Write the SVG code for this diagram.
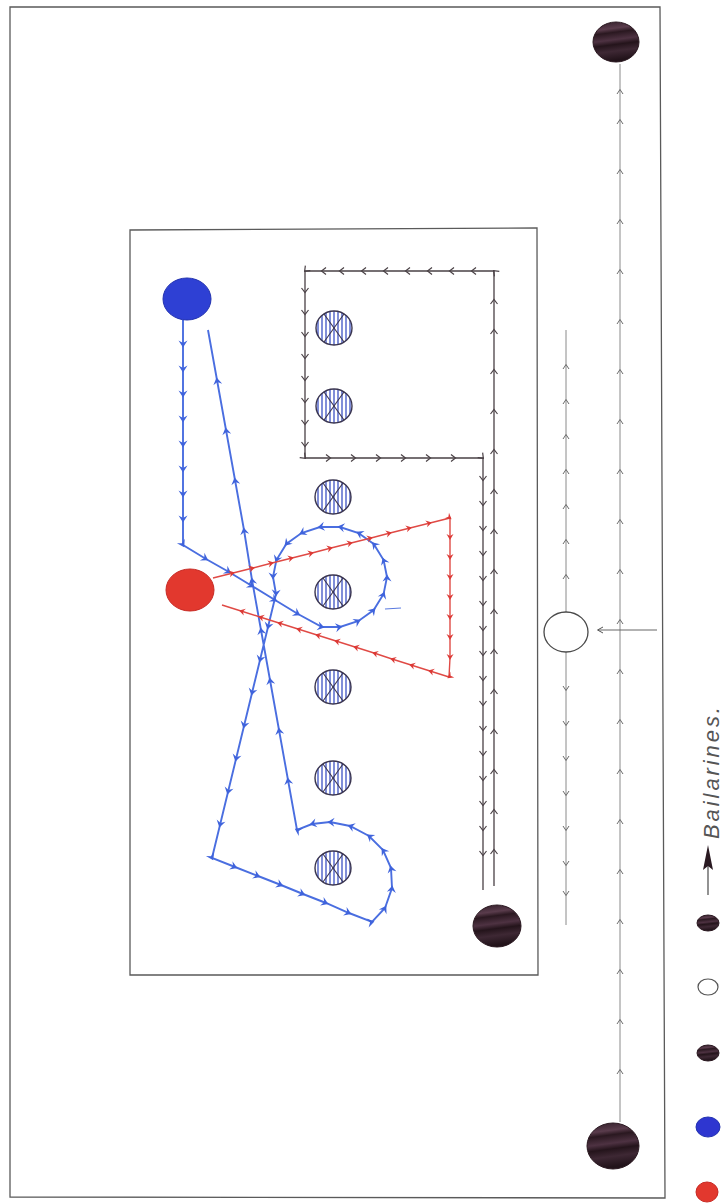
<svg xmlns="http://www.w3.org/2000/svg" width="724" height="1203" viewBox="0 0 724 1203">
<style>
.frame{fill:none;stroke:#5a5a5a;stroke-width:1.3}
.blk{fill:none;stroke:#4a4146;stroke-width:1.3;marker-mid:url(#aBlk)}
.gry{fill:none;stroke:#8a8a8a;stroke-width:1;marker-mid:url(#aGry)}
.blu{fill:none;stroke:#4a6ee0;stroke-width:1.9;marker-mid:url(#aBlu)}
.red{fill:none;stroke:#e04a45;stroke-width:1.4;marker-mid:url(#aRed)}
.obst ellipse{fill:url(#hatch);stroke:#3a3550;stroke-width:1.4}
.obst line{stroke:#3a3550;stroke-width:1.1}
.dark{fill:url(#darkG);stroke:#2a1820;stroke-width:1}
</style>
<defs>
<marker id="aBlk" markerUnits="userSpaceOnUse" markerWidth="12" markerHeight="12" refX="0" refY="0" viewBox="-6 -6 12 12" orient="auto" overflow="visible">
<path d="M-4,-3.5 L0.5,0 L-4,3.5" fill="none" stroke="#4a4146" stroke-width="1.2"/>
</marker>
<marker id="aGry" markerUnits="userSpaceOnUse" markerWidth="12" markerHeight="12" refX="0" refY="0" viewBox="-6 -6 12 12" orient="auto" overflow="visible">
<path d="M-4,-3 L0.5,0 L-4,3" fill="none" stroke="#6a6a6a" stroke-width="1"/>
</marker>
<marker id="aBlu" markerUnits="userSpaceOnUse" markerWidth="12" markerHeight="12" refX="0" refY="0" viewBox="-6 -6 12 12" orient="auto" overflow="visible">
<path d="M-4.5,-4.5 L2.5,0 L-4.5,4.5 L-2,0 Z" fill="#3f63dc"/>
</marker>
<marker id="aRed" markerUnits="userSpaceOnUse" markerWidth="12" markerHeight="12" refX="0" refY="0" viewBox="-6 -6 12 12" orient="auto" overflow="visible">
<path d="M-4,-3.5 L2,0 L-4,3.5 L-2,0 Z" fill="#dc3a36"/>
</marker>
<marker id="aEnd" markerUnits="userSpaceOnUse" markerWidth="12" markerHeight="12" refX="0" refY="0" viewBox="-6 -6 12 12" orient="auto" overflow="visible">
<path d="M-5,-3 L0.5,0 L-5,3" fill="none" stroke="#555" stroke-width="1"/>
</marker>
<pattern id="hatch" patternUnits="userSpaceOnUse" width="4" height="4">
<rect width="4" height="4" fill="#ffffff"/>
<line x1="2" y1="0" x2="2" y2="4" stroke="#3c52c4" stroke-width="1.3"/>
</pattern>
<linearGradient id="darkG" x1="0" y1="0" x2="0.15" y2="1">
<stop offset="0" stop-color="#2e1c26"/>
<stop offset="0.22" stop-color="#5a3c4c"/>
<stop offset="0.32" stop-color="#2a1820"/>
<stop offset="0.5" stop-color="#4e3242"/>
<stop offset="0.62" stop-color="#24141b"/>
<stop offset="0.78" stop-color="#3e2834"/>
<stop offset="1" stop-color="#22131a"/>
</linearGradient>
</defs>
<rect width="724" height="1203" fill="#ffffff"/>

<g id="frames">
<path class="frame" d="M10,7 L660,7 L665,1198 L10,1197 Z"/>
<path class="frame" d="M130,230 L537,228 L538,975 L130,975 Z"/>
</g>

<g id="connectors">
<polyline class="blk" points="494,886 494,850 494,810 494,770 494,730 494,690 494,650 494,610 494,570 494,530 494,490 494,450 494,410 494,370 494,330 494,300 494,271 472,271 450,271 428,271 406,271 384,271 362,271 340,271 322,271 305,271 305,292 305,314 305,336 305,358 305,380 305,402 305,424 305,446 305,458 330,458 355,458 380,458 405,458 430,458 455,458 483,458 483,480 483,505 483,530 483,555 483,580 483,605 483,630 483,655 483,680 483,705 483,730 483,755 483,780 483,805 483,830 483,855 483,890"/>
<polyline class="gry" points="566,612 566,575 566,540 566,505 566,470 566,435 566,400 566,365 566,330"/>
<polyline class="gry" points="566,652 566,690 566,725 566,760 566,795 566,830 566,865 566,895 566,925"/>
<polyline class="gry" points="620,1122 620,1070 620,1020 620,970 620,920 620,870 620,820 620,770 620,720 620,670 620,620 620,570 620,520 620,470 620,420 620,370 620,320 620,270 620,220 620,170 620,120 620,90 620,64"/>
<line x1="657" y1="630" x2="598" y2="630" stroke="#666" stroke-width="1" marker-end="url(#aEnd)"/>
<polyline class="blu" points="183,320 183,345 183,370 183,395 183,420 183,445 183,470 183,495 183,520 183,545 206,559 229,572 252,586 275,600 298,614 322,627 340,627 358.5,621 373.7,610 383.6,594 387,577 383.6,560 373.7,544 358.5,533 340,527 320,527 301.5,533 286.3,544 276.4,560 273,577 276,594 268,627 260,660 252,693 244,726 236,759 228,792 220,825 212,858 235,867 258,876 281,885 303,894 326,903 349,913 372,922 385,908 392,888 391,868 383,850 369,836 350,826 330,822 312,824 297,830 288,780 279,730 270,680 261,630 252,580 244,530 235,480 226,430 217,380 208,330"/>
<line x1="385" y1="609" x2="401" y2="608" stroke="#5a7ae0" stroke-width="1.2"/>
<polyline class="red" points="213,578 233,573 253,568 272,563 292,558 312,553 331,548 351,543 371,538 390,533 410,528 430,523 450,518 450,538 450,558 450,578 450,598 450,618 450,638 450,658 449,677 430,671 411,665 392,659 374,653 355,647 336,641 317,635 298,629 279,623 260,617 241,611 222,605"/>
</g>

<g id="obstacles" class="obst">
<g id="obs1"><ellipse cx="334" cy="328" rx="18" ry="17"/><line x1="324" y1="314" x2="344" y2="342"/><line x1="344" y1="314" x2="324" y2="342"/></g>
<g id="obs2"><ellipse cx="334" cy="406" rx="18" ry="17"/><line x1="324" y1="392" x2="344" y2="420"/><line x1="344" y1="392" x2="324" y2="420"/></g>
<g id="obs3"><ellipse cx="333" cy="497" rx="18" ry="17"/><line x1="323" y1="483" x2="343" y2="511"/><line x1="343" y1="483" x2="323" y2="511"/></g>
<g id="obs4"><ellipse cx="333" cy="592" rx="18" ry="17"/><line x1="323" y1="578" x2="343" y2="606"/><line x1="343" y1="578" x2="323" y2="606"/></g>
<g id="obs5"><ellipse cx="333" cy="687" rx="18" ry="17"/><line x1="323" y1="673" x2="343" y2="701"/><line x1="343" y1="673" x2="323" y2="701"/></g>
<g id="obs6"><ellipse cx="333" cy="778" rx="18" ry="17"/><line x1="323" y1="764" x2="343" y2="792"/><line x1="343" y1="764" x2="323" y2="792"/></g>
<g id="obs7"><ellipse cx="333" cy="868" rx="18" ry="17"/><line x1="323" y1="854" x2="343" y2="882"/><line x1="343" y1="854" x2="323" y2="882"/></g>
</g>

<g id="dancers">
<ellipse id="blueDancer" cx="187" cy="299" rx="24" ry="21" fill="#2e40d4" stroke="#2232b0" stroke-width="1"/>
<ellipse id="redDancer" cx="190" cy="590" rx="24" ry="21" fill="#e2382e" stroke="#c82a24" stroke-width="1"/>
<ellipse id="blackDancer" class="dark" cx="497" cy="926" rx="24" ry="21"/>
<ellipse id="topDancer" class="dark" cx="616" cy="42" rx="23" ry="20"/>
<ellipse id="bottomDancer" class="dark" cx="613" cy="1146" rx="26" ry="23"/>
<ellipse id="whiteDancer" cx="566" cy="632" rx="22" ry="20" fill="#ffffff" stroke="#4a4a4a" stroke-width="1.3"/>
</g>

<g id="legend">
<ellipse cx="707" cy="1192" rx="11" ry="10" fill="#e2382e" stroke="#c82a24" stroke-width="1"/>
<ellipse cx="708" cy="1127" rx="12" ry="10" fill="#2e36d0" stroke="#2232b0" stroke-width="1"/>
<ellipse cx="708" cy="1053" rx="11" ry="8" class="dark"/>
<ellipse cx="708" cy="987" rx="10" ry="8" fill="#ffffff" stroke="#555" stroke-width="1.2"/>
<ellipse cx="708" cy="923" rx="11" ry="8" class="dark"/>
<line x1="708" y1="895" x2="708" y2="862" stroke="#4a4a4a" stroke-width="1.2"/>
<path d="M708,845 L713,870 L708,866 L703,870 Z" fill="#2a1a22"/>
<text x="0" y="0" transform="translate(719,839) rotate(-90)" font-family="Liberation Sans, sans-serif" font-style="italic" font-size="22" fill="#555" textLength="132" lengthAdjust="spacing">Bailarines.</text>
</g>
</svg>
